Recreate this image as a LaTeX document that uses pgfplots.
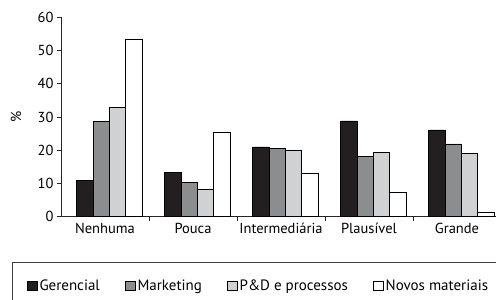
\documentclass[border=0pt]{standalone}
\usepackage{fontspec}
\setmainfont{PT Sans}
\usepackage{pgfplots}
\usetikzlibrary{calc}
\pgfplotsset{compat=1.18}
\definecolor{cG}{HTML}{231F20}
\definecolor{cM}{HTML}{8C8D8F}
\definecolor{cP}{HTML}{D0D1D3}
\begin{document}
\begin{tikzpicture}[x=1pt,y=1pt]
\begin{axis}[
  name=ax,
  scale only axis, width=440pt, height=199.4pt,
  xmin=-0.5, xmax=4.5, ymin=0, ymax=60,
  axis x line*=bottom, axis y line*=left,
  axis line style={line width=0.9pt, black!85},
  ybar=0pt, bar width=16.3pt,
  ytick={0,10,...,60},
  xtick={0,1,2,3,4},
  xticklabels={Nenhuma,Pouca,Intermediária,Plausível,Grande},
  major x tick style={draw=none},
  minor xtick={0.5,1.5,2.5,3.5},
  tick align=outside,
  major tick length=4pt, minor tick length=4pt,
  tick style={line width=0.8pt, black!85},
  /pgf/number format/assume math mode=true,
  tick label style={font=\fontsize{14.5pt}{16pt}\selectfont},
  xticklabel style={yshift=1pt},
  ylabel={\%},
  ylabel style={at={(axis description cs:-0.102,0.5)}, anchor=center, font=\fontsize{14.5pt}{16pt}\selectfont},
  legend columns=4,
  legend style={at={(axis description cs:-0.077,-0.346)}, anchor=west, draw=none, fill=none, inner sep=0pt,
    font=\fontsize{15pt}{16pt}\selectfont,
    /tikz/every even column/.append style={column sep=23.5pt}},
  legend image code/.code={\draw[#1, draw=black, line width=0.7pt] (0pt,-4.7pt) rectangle (9.5pt,4.7pt);},
]
\addplot[fill=cG, draw=black, line width=0.8pt, bar shift=-19.95pt] coordinates {(0,11.0) (1,13.2) (2,21.0) (3,28.8) (4,26.1)};
\addplot[fill=cM, draw=black, line width=0.8pt, bar shift=-3.65pt] coordinates {(0,28.6) (1,10.4) (2,20.5) (3,18.1) (4,21.9)};
\addplot[fill=cP, draw=black, line width=0.8pt, bar shift=12.65pt] coordinates {(0,32.8) (1,8.3) (2,20.1) (3,19.4) (4,19.1)};
\addplot[fill=white, draw=black, line width=0.8pt, bar shift=28.95pt] coordinates {(0,53.3) (1,25.3) (2,12.9) (3,7.3) (4,1.4)};
\legend{Gerencial,Marketing,P\&D e processos,Novos materiais}
\end{axis}
\coordinate (O) at ($(ax.south west)+(-61pt,-83.3pt)$);
\begin{scope}
\clip (O) rectangle ++(496pt,300pt);
\draw[line width=1pt, black!75] ($(O)+(12.7pt,-10pt)$) rectangle ($(O)+(520pt,37.7pt)$);
\end{scope}
\pgfresetboundingbox
\useasboundingbox (O) rectangle ++(496pt,300pt);
\end{tikzpicture}
\end{document}
